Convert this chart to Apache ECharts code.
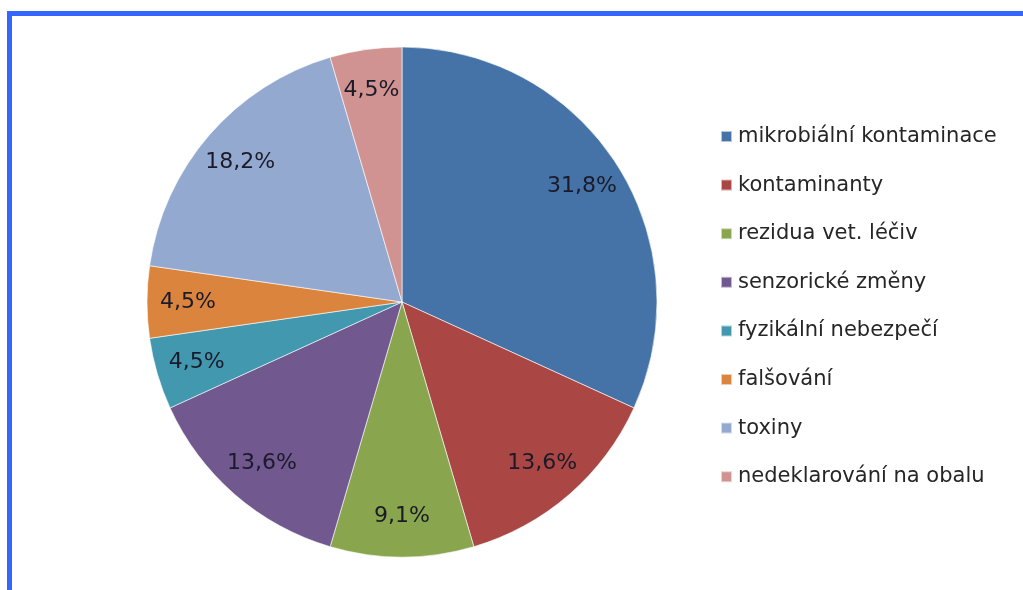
<html lang="cs">
<head>
  <meta charset="utf-8"/>
  <script src="https://cdn.jsdelivr.net/npm/echarts@6/dist/echarts.min.js"></script>
  <style>
    html, body { margin: 0; padding: 0; background: #fff; }
    #frame {
      position: absolute; left: 7px; top: 11px; right: 0; bottom: 0;
      border-top: 5px solid #3366ff; border-left: 5px solid #3366ff;
    }
    #chart { position: absolute; left: 0; top: 0; width: 1023px; height: 590px; }
  </style>
</head>
<body>
<div id="frame"></div>
<div id="chart"></div>
<script>
  // kategorie a počty (procenta = podíl z celku)
  var categories = ['mikrobiální kontaminace', 'kontaminanty', 'rezidua vet. léčiv',
    'senzorické změny', 'fyzikální nebezpečí', 'falšování', 'toxiny', 'nedeklarování na obalu'];
  var counts = [7, 3, 2, 3, 1, 1, 4, 1];
  var colors = ['#4572a7', '#aa4643', '#89a54e', '#71588f', '#4198af', '#db843d', '#93a9cf', '#d19392'];

  var pieData = categories.map(function (c, i) {
      return { name: c, value: counts[i], itemStyle: { color: colors[i] } };
  });
  var labelData = categories.map(function (c, i) {
      return { name: c, value: counts[i] };
  });

  var myChart = echarts.init(document.getElementById('chart'));
  var option = {
      animation: false,
      legend: {
          orient: 'vertical',
          left: 715,
          top: 121,
          icon: 'rect',
          itemWidth: 11,
          itemHeight: 11,
          itemGap: 27.6,
          selectedMode: false,
          data: categories.map(function (c, i) {
              return { name: c, itemStyle: { color: colors[i] } };
          }),
          textStyle: {
              fontFamily: 'DejaVu Sans',
              fontSize: 21,
              lineHeight: 21,
              color: '#262626',
              padding: [0, 0, 0, 1]
          }
      },
      series: [
          {
              type: 'pie',
              center: [402, 302],
              radius: [0, 255],
              startAngle: 90,
              clockwise: true,
              silent: true,
              label: { show: false },
              labelLine: { show: false },
              itemStyle: { borderColor: 'rgba(255,255,255,0.6)', borderWidth: 1 },
              data: pieData
          },
          {
              // průhledná vrstva jen pro popisky
              type: 'pie',
              center: [402, 302],
              radius: [145, 277],
              startAngle: 90,
              clockwise: true,
              silent: true,
              itemStyle: { color: 'rgba(0,0,0,0)' },
              label: {
                  show: true,
                  position: 'inside',
                  fontFamily: 'DejaVu Sans',
                  fontSize: 22,
                  color: '#1a1a28',
                  formatter: function (p) {
                      return p.percent.toFixed(1).replace('.', ',') + '%';
                  }
              },
              labelLine: { show: false },
              data: labelData
          }
      ]
  };
  myChart.setOption(option);
</script>
</body>
</html>
